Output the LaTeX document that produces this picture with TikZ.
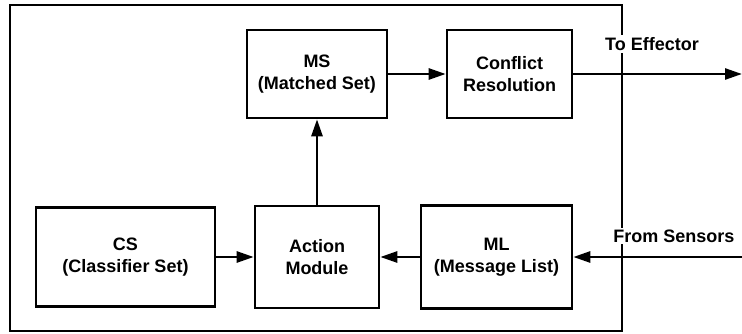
\documentclass[tikz,border=0pt]{standalone}
\usepackage{fontspec}
\setmainfont{Liberation Sans}
\usetikzlibrary{arrows.meta,positioning}

\begin{document}
\begin{tikzpicture}[x=1pt,y=-1pt,line width=2.6pt,
    blk/.style={draw,align=center,inner sep=0pt,font=\bfseries\fontsize{18}{22}\selectfont},
    lbl/.style={fill=white,inner sep=2pt,font=\bfseries\fontsize{18}{22}\selectfont},
    arr/.style={-{Triangle[length=17pt,width=11pt]}}]
    \useasboundingbox (0,0) rectangle (742,334);

    % outer frame
    \draw (10,5) rectangle (622,331);
    \node[lbl] (eff) at (652,44) {To Effector};
    \node[lbl] (sen) at (674,236) {From Sensors};

    % blocks
    \node[blk,minimum width=140pt,minimum height=88pt] (ms) at (317,74) {MS\\(Matched Set)};
    \node[blk,minimum width=125pt,minimum height=88pt] (cr) at (509.5,74) {Conflict\\Resolution};
    \node[blk,minimum width=179pt,minimum height=99pt] (cs) at (125.5,257) {CS\\(Classifier Set)};
    \node[blk,minimum width=124pt,minimum height=102pt] (act) at (317,257) {Action\\Module};
    \node[blk,minimum width=151pt,minimum height=103pt] (ml) at (496.5,257) {ML\\(Message List)};

    \coordinate (out) at (742,74);
    \coordinate (in) at (742,257);

    % connectors
    \draw[arr] (ms) -- (cr);
    \draw[arr] (cr) -- (out);
    \draw[arr] (in) -- (ml);
    \draw[arr] (ml) -- (act);
    \draw[arr] (cs) -- (act);
    \draw[arr] (act) -- (ms);
\end{tikzpicture}
\end{document}
